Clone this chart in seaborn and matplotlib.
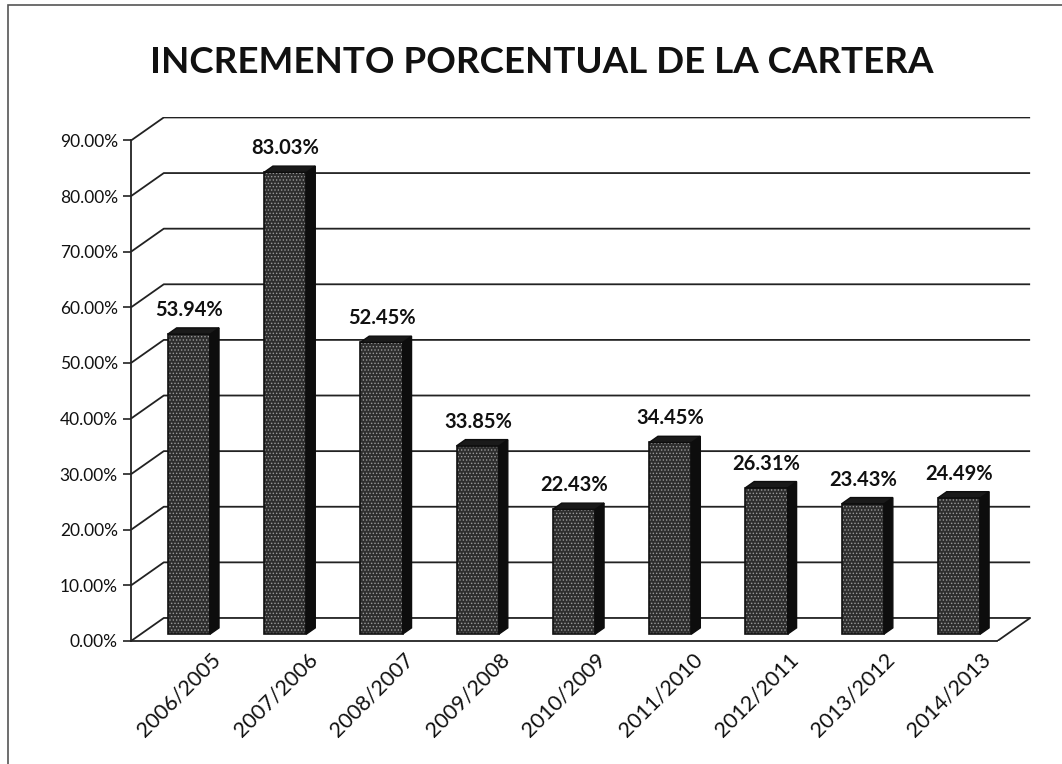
import pandas as pd
import matplotlib
matplotlib.use('Agg')
import matplotlib.pyplot as plt
from matplotlib.patches import Polygon, Rectangle
import seaborn as sns

# Data
periods = ['2006/2005', '2007/2006', '2008/2007', '2009/2008', '2010/2009',
           '2011/2010', '2012/2011', '2013/2012', '2014/2013']
increments = [53.94, 83.03, 52.45, 33.85, 22.43, 34.45, 26.31, 23.43, 24.49]
y_ticks = [0, 10, 20, 30, 40, 50, 60, 70, 80, 90]
title = 'INCREMENTO PORCENTUAL DE LA CARTERA'

sns.set_style('white')
plt.rcParams['font.family'] = ['Lato', 'DejaVu Sans']
plt.rcParams['hatch.linewidth'] = 0.6

df = pd.DataFrame({'Periodo': periods, 'Incremento': increments})

fig = plt.figure(figsize=(10.62, 7.64), dpi=100)
ax = fig.add_axes([0.1234, 0.161, 0.8484, 0.686])

# fake 3d: wall depth offset and bar depth
wall_dx, wall_dy = 0.34, 4.14
bar_f, depth_f = 0.30, 0.27
off_x, off_y = bar_f * wall_dx, bar_f * wall_dy
bd_x, bd_y = depth_f * wall_dx, depth_f * wall_dy
n = len(periods)

# walls / gridlines
for v in y_ticks:
    ax.plot([-0.5, -0.5 + wall_dx, n - 0.5 + wall_dx], [v, v + wall_dy, v + wall_dy],
            color='#222222', lw=1.3, zorder=1, solid_capstyle='butt')
ax.plot([n - 0.5, n - 0.5 + wall_dx], [0, wall_dy], color='#222222', lw=1.3, zorder=1)

sns.barplot(data=df, x='Periodo', y='Incremento', ax=ax, width=0.44,
            color='#333333', saturation=1, zorder=3)

for p, v in zip(ax.patches, increments):
    x0 = p.get_x() + off_x
    w = p.get_width()
    y0 = off_y
    p.set_x(x0)
    p.set_y(y0)
    p.set_facecolor('#2e2e2e')
    p.set_edgecolor('#9a9a9a')
    p.set_hatch('.....')
    p.set_linewidth(0)
    ax.add_patch(Rectangle((x0, y0), w, v, fill=False, edgecolor='#111111', lw=1.2, zorder=4))
    side = [(x0 + w, y0), (x0 + w + bd_x, y0 + bd_y), (x0 + w + bd_x, y0 + v + bd_y), (x0 + w, y0 + v)]
    ax.add_patch(Polygon(side, closed=True, facecolor='#0d0d0d', edgecolor='#0d0d0d', lw=1, zorder=4))
    top = [(x0, y0 + v), (x0 + w, y0 + v), (x0 + w + bd_x, y0 + v + bd_y), (x0 + bd_x, y0 + v + bd_y)]
    ax.add_patch(Polygon(top, closed=True, facecolor='#1a1a1a', edgecolor='#0d0d0d', lw=1, zorder=4))
    ax.text(x0 + w / 2, y0 + v + bd_y + 1.4, f'{v:.2f}%', ha='center', va='bottom',
            fontsize=14.5, fontweight='bold', color='#111111', zorder=5)

ax.set_xlim(-0.5, n - 0.5 + wall_dx + 0.02)
ax.set_ylim(0, 90 + wall_dy + 0.1)
ax.set_yticks(y_ticks)
ax.set_yticklabels([f'{v:.2f}%' for v in y_ticks], fontsize=12.5, color='#111111')
ax.set_xticks(range(n))
ax.set_xticklabels(periods, rotation=45, ha='center', fontsize=15.5, color='#111111')
ax.set_xticks([i - 0.5 for i in range(n + 1)], minor=True)
ax.tick_params(axis='x', which='major', length=0, pad=6)
ax.tick_params(axis='x', which='minor', length=6, width=1.2, color='#222222', direction='out')
ax.tick_params(axis='y', length=6, width=1.2, color='#222222', direction='out', left=True)
ax.set_xlabel('')
ax.set_ylabel('')

for s in ['top', 'right']:
    ax.spines[s].set_visible(False)
ax.spines['left'].set_color('#222222')
ax.spines['left'].set_linewidth(1.3)
ax.spines['bottom'].set_color('#222222')
ax.spines['bottom'].set_linewidth(1.3)
ax.spines['bottom'].set_bounds(-0.5, n - 0.5)
ax.spines['left'].set_bounds(0, 90)
ax.patch.set_alpha(0)

fig.text(0.51, 0.918, title, ha='center', va='center', fontsize=26.5, fontweight='bold', color='#111111')
fig.add_artist(Rectangle((0.008, -0.01), 1.0, 1.003, transform=fig.transFigure,
                         fill=False, edgecolor='#555555', lw=1.2))

fig.savefig('out.png', dpi=100, facecolor='white')
